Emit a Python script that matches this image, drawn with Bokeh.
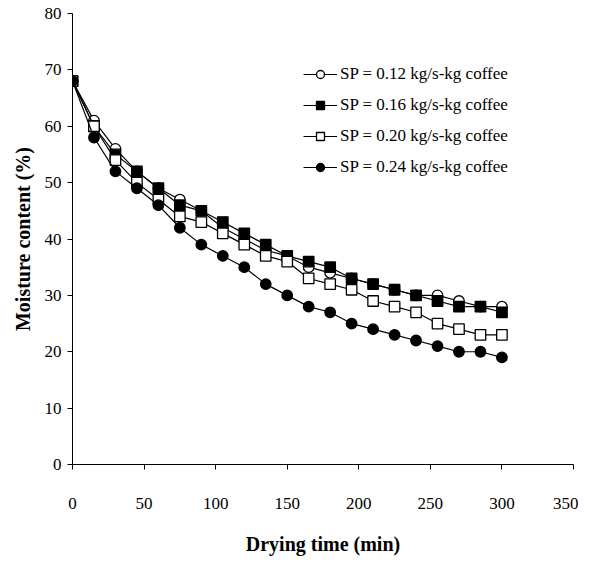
from bokeh.plotting import figure
from bokeh.models import Range1d, Legend, LegendItem, FixedTicker
from bokeh.embed import file_html
from bokeh.resources import INLINE

time_min = [0, 15, 30, 45, 60, 75, 90, 105, 120, 135, 150, 165, 180, 195, 210, 225, 240, 255, 270, 285, 300]
sp012 = [68, 61, 56, 52, 49, 47, 45, 42, 40, 38, 37, 35, 34, 33, 32, 31, 30, 30, 29, 28, 28]
sp016 = [68, 60, 55, 52, 49, 46, 45, 43, 41, 39, 37, 36, 35, 33, 32, 31, 30, 29, 28, 28, 27]
sp020 = [68, 60, 54, 50, 47, 44, 43, 41, 39, 37, 36, 33, 32, 31, 29, 28, 27, 25, 24, 23, 23]
sp024 = [68, 58, 52, 49, 46, 42, 39, 37, 35, 32, 30, 28, 27, 25, 24, 23, 22, 21, 20, 20, 19]
labels = ["SP = 0.12 kg/s-kg coffee", "SP = 0.16 kg/s-kg coffee",
          "SP = 0.20 kg/s-kg coffee", "SP = 0.24 kg/s-kg coffee"]
x_ticks = [0, 50, 100, 150, 200, 250, 300, 350]
y_ticks = [0, 10, 20, 30, 40, 50, 60, 70, 80]

FONT = "Liberation Serif"

p = figure(width=578, height=560, output_backend="svg", toolbar_location=None,
           x_range=Range1d(0, 350), y_range=Range1d(0, 80),
           min_border_left=72, min_border_right=5, min_border_top=13, min_border_bottom=96)
p.outline_line_color = None
p.xgrid.grid_line_color = None
p.ygrid.grid_line_color = None
p.background_fill_color = "white"

for ax, ticks in ((p.xaxis[0], x_ticks), (p.yaxis[0], y_ticks)):
    ax.ticker = FixedTicker(ticks=ticks)
    ax.minor_tick_line_color = None
    ax.major_tick_in = 0
    ax.major_tick_out = 5
    ax.axis_line_color = "black"
    ax.major_tick_line_color = "black"
    ax.major_label_text_font = FONT
    ax.major_label_text_font_size = "17px"
    ax.major_label_text_color = "black"
    ax.axis_label_text_font = FONT
    ax.axis_label_text_font_size = "20px"
    ax.axis_label_text_font_style = "bold"
    ax.axis_label_text_color = "black"

p.xaxis.axis_label = "Drying time (min)"
p.yaxis.axis_label = "Moisture content (%)"
p.xaxis.major_label_standoff = 28
p.xaxis.axis_label_standoff = 21
p.yaxis.major_label_standoff = 6
p.yaxis.axis_label_standoff = 8

series = [(sp012, "circle", "white"), (sp016, "square", "black"),
          (sp020, "square", "white"), (sp024, "circle", "black")]
items = []
for (vals, marker, fill), lab in zip(series, labels):
    l = p.line(time_min, vals, line_color="black", line_width=1.2)
    s = p.scatter(time_min, vals, marker=marker, size=10.5,
                  fill_color=fill, line_color="black", line_width=1.3)
    items.append(LegendItem(label=lab, renderers=[l, s]))

legend = Legend(items=items, location=(231, 287), orientation="vertical",
                label_text_font=FONT, label_text_font_size="17px", label_text_color="black",
                glyph_width=34, glyph_height=20, label_height=20, spacing=11,
                padding=0, margin=0, border_line_color=None, background_fill_alpha=0,
                label_standoff=3)
p.add_layout(legend)

open("out.html", "w").write(file_html(p, INLINE))
